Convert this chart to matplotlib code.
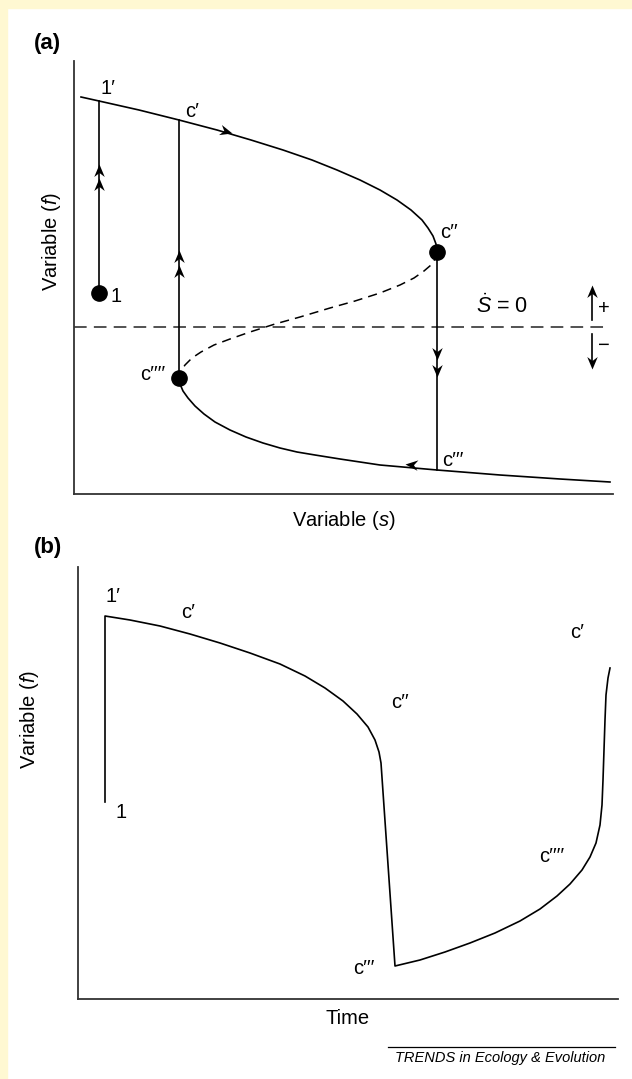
import matplotlib
matplotlib.use("Agg")
import matplotlib.pyplot as plt
from matplotlib.markers import MarkerStyle
from matplotlib.path import Path
from matplotlib.patches import Rectangle
from matplotlib.lines import Line2D
from matplotlib.transforms import Affine2D

plt.rcParams["font.family"] = ["Liberation Sans", "DejaVu Sans"]
plt.rcParams["mathtext.fontset"] = "custom"
plt.rcParams["mathtext.rm"] = "Liberation Sans"
plt.rcParams["mathtext.it"] = "Liberation Sans:italic"

W, H = 632, 1079
FS = 14.5
YELLOW = "#fff8d2"
SPINE = "#333333"

# ---- panel (a): phase plane, arbitrary units ----
a_upper_s = [7, 25, 65, 105, 143, 177, 209, 238, 263, 286, 306, 323, 337,
             348, 354, 359, 362, 363]
a_upper_f = [397, 393, 384, 374, 364, 354, 344, 334, 324, 314, 304, 294, 284,
             274, 266, 258, 250, 242]
a_middle_s = [363, 361, 357, 350, 340, 326, 306, 281, 256, 226, 201, 176, 156,
              140, 127, 118, 111, 107, 105]
a_middle_f = [242, 235, 229, 223, 216, 209, 201, 193, 186, 177, 170, 162, 155,
              149, 142, 136, 129, 123, 116]
a_lower_s = [105, 106, 109, 114, 121, 130, 141, 156, 172, 189, 206, 223, 241,
             266, 306, 363, 426, 486, 536]
a_lower_f = [116, 110, 103, 96, 88, 80, 72, 64, 57, 51, 46, 42, 39,
             35, 29, 24, 19, 15, 12]
a_nullcline_f = 167
a_nullcline_end = 531

# jumps: (s, f_start, f_end)
a_jumps = [(25, 201, 393), (105, 116, 374), (363, 242, 24)]
# arrowheads: (s, f, direction in degrees)
a_jump_arrows = [(25, 330, 90), (25, 316, 90),
                 (105, 244, 90), (105, 229, 90),
                 (363, 134, -90), (363, 117, -90)]
a_flow_arrows = [(158, 361, -16), (331, 30, 175)]
a_dots_s = [25, 105, 363]
a_dots_f = [201, 116, 242]
a_labels = [("1\u2032", 34, 406), ("c\u2032", 118, 383), ("c\u2032\u2032", 375, 262),
            ("1", 42, 198), ("c\u2032\u2032\u2032\u2032", 79, 119),
            ("c\u2032\u2032\u2032", 379, 33)]

# ---- panel (b): time series, arbitrary units ----
b_time = [27, 27, 52, 82, 112, 142, 172, 202, 227, 247, 265, 279, 290, 297,
          301, 303, 317, 342, 367, 392, 417, 442, 462, 479, 492, 504, 512,
          518, 522, 524, 525, 526, 527, 528, 530, 532]
b_f = [197, 383, 379, 373, 365, 356, 346, 335, 323, 311, 298, 285, 272, 259,
       247, 236, 33, 39, 47, 56, 66, 78, 90, 103, 115, 129, 142,
       156, 174, 194, 219, 249, 279, 304, 321, 331]
b_labels = [("1\u2032", 35, 403), ("c\u2032", 110, 387), ("c\u2032\u2032", 322, 296),
            ("1", 43, 187), ("c\u2032\u2032\u2032", 286, 30),
            ("c\u2032\u2032\u2032\u2032", 474, 143), ("c\u2032", 499, 367)]

# barbed arrowhead, tip at the origin pointing along +x
head = Path([(0, 0), (-1, 0.42), (-0.68, 0), (-1, -0.42), (0, 0)],
            [Path.MOVETO, Path.LINETO, Path.LINETO, Path.LINETO, Path.CLOSEPOLY])


def arrowhead(ax, x, y, angle, size=18):
    m = MarkerStyle(head, transform=Affine2D().rotate_deg(angle))
    ax.plot([x], [y], marker=m, markersize=size, color="black",
            markeredgewidth=0, linestyle="none", zorder=5)


def style_axes(ax):
    for side in ("top", "right"):
        ax.spines[side].set_visible(False)
    for side in ("left", "bottom"):
        ax.spines[side].set_color(SPINE)
        ax.spines[side].set_linewidth(1.3)
    ax.set_xticks([])
    ax.set_yticks([])
    ax.patch.set_alpha(0)


fig = plt.figure(figsize=(W / 100, H / 100), dpi=100, facecolor="white")
fig.patches.append(Rectangle((0, 1 - 8 / H), 1, 8 / H, transform=fig.transFigure,
                             color=YELLOW, zorder=0))
fig.patches.append(Rectangle((0, 0), 7 / W, 1, transform=fig.transFigure,
                             color=YELLOW, zorder=0))

# panel (a)
ax_a = fig.add_axes([74 / W, (H - 494) / H, 539 / W, 433 / H])
style_axes(ax_a)
ax_a.set_xlim(0, 539)
ax_a.set_ylim(0, 433)
ax_a.plot(a_upper_s, a_upper_f, color="black", lw=1.2)
ax_a.plot(a_lower_s, a_lower_f, color="black", lw=1.2)
ax_a.plot(a_middle_s, a_middle_f, color="black", lw=1.1, dashes=(6, 4))
ax_a.plot([0, a_nullcline_end], [a_nullcline_f, a_nullcline_f], color="#444444",
          lw=1.3, dashes=(7, 4))
for s, f0, f1 in a_jumps:
    ax_a.plot([s, s], [f0, f1], color="black", lw=1.2)
for s, f, ang in a_jump_arrows + a_flow_arrows:
    arrowhead(ax_a, s, f, ang)
ax_a.plot(a_dots_s, a_dots_f, "o", color="black", markersize=11, zorder=6)
for txt, s, f in a_labels:
    ax_a.text(s, f, txt, fontsize=FS, ha="center", va="center")

# sign of S-dot either side of the nullcline
ax_a.text(428, 188, r"$\dot{S}$ = 0", fontsize=FS + 1, ha="center", va="center")
ax_a.plot([518, 518], [174, 203], color="black", lw=1.2)
arrowhead(ax_a, 518, 209, 90)
ax_a.plot([518, 518], [160, 131], color="black", lw=1.2)
arrowhead(ax_a, 518, 125, -90)
ax_a.text(530, 185, "+", fontsize=FS, ha="center", va="center")
ax_a.text(530, 149, "\u2212", fontsize=FS, ha="center", va="center")

ax_a.set_xlabel("Variable ($s$)", fontsize=FS, labelpad=11)
ax_a.text(-0.041, 0.584, "Variable ($f$)", fontsize=FS, rotation=90,
          ha="center", va="center", transform=ax_a.transAxes)
fig.text(34 / W, 1 - 44 / H, "(a)", fontsize=16, fontweight="bold", va="center")

# panel (b)
ax_b = fig.add_axes([78 / W, (H - 999) / H, 540 / W, 432 / H])
style_axes(ax_b)
ax_b.set_xlim(0, 540)
ax_b.set_ylim(0, 432)
ax_b.plot(b_time, b_f, color="black", lw=1.2)
for txt, t, f in b_labels:
    ax_b.text(t, f, txt, fontsize=FS, ha="center", va="center")
ax_b.set_xlabel("Time", fontsize=FS, labelpad=7)
ax_b.text(-0.089, 0.646, "Variable ($f$)", fontsize=FS, rotation=90,
          ha="center", va="center", transform=ax_b.transAxes)
fig.text(34 / W, 1 - 548 / H, "(b)", fontsize=16, fontweight="bold", va="center")

# journal credit
fig.lines.append(Line2D([388 / W, 615 / W], [1 - 1047 / H, 1 - 1047 / H],
                        transform=fig.transFigure, color="black", lw=0.9))
fig.text(605 / W, 1 - 1058 / H, "TRENDS in Ecology & Evolution", fontsize=10.5,
         style="italic", ha="right", va="center")

fig.savefig("out.png", dpi=100, facecolor=fig.get_facecolor())
